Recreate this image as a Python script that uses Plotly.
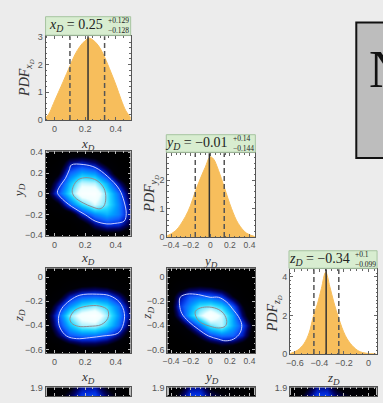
import plotly.graph_objects as go

W, H = 383, 403

# ---------------- data ----------------
# 1D marginal PDFs
xd_x = [-0.071, -0.039, -0.006, 0.026, 0.058, 0.101, 0.133, 0.166, 0.198, 0.226,
        0.252, 0.284, 0.316, 0.359, 0.402, 0.434, 0.466, 0.499]
xd_pdf = [0.03, 0.2, 0.6, 1.0, 1.4, 1.95, 2.35, 2.65, 2.85, 2.95,
          2.88, 2.7, 2.4, 1.85, 1.25, 0.75, 0.33, 0.08]
xd_lines = [0.101, 0.219, 0.327]          # lower, median, upper

yd_x = [-0.457, -0.356, -0.255, -0.204, -0.154, -0.103, -0.053, -0.002, 0.032,
        0.083, 0.143, 0.217, 0.285, 0.369, 0.453]
yd_pdf = [0.02, 0.22, 0.72, 1.1, 1.6, 2.05, 2.45, 2.82, 2.75,
          2.35, 1.75, 1.0, 0.48, 0.14, 0.02]
yd_lines = [-0.154, -0.01, 0.142]

zd_x = [-0.638, -0.578, -0.525, -0.484, -0.452, -0.416, -0.384, -0.349, -0.315,
        -0.283, -0.242, -0.188, -0.134, -0.067, 0.062]
zd_pdf = [0.03, 0.2, 0.55, 1.1, 1.9, 2.6, 3.4, 4.25, 3.5,
          2.7, 1.85, 0.95, 0.45, 0.12, 0.01]
zd_lines = [-0.445, -0.345, -0.242]

title_main = ["<i>x<sub>D</sub></i> = 0.25", "<i>y<sub>D</sub></i> = −0.01",
              "<i>z<sub>D</sub></i> = −0.34"]
title_err = ["+0.129<br>−0.128", "+0.14<br>−0.144", "+0.1<br>−0.099"]

# 2D densities (relative brightness)
gx1 = [-0.06, 0.02, 0.10, 0.18, 0.26, 0.34, 0.42, 0.50]
gx2 = [-0.44, -0.33, -0.22, -0.11, 0.0, 0.11, 0.22, 0.33, 0.44]
gy2 = [-0.4, -0.3, -0.2, -0.1, 0.0, 0.1, 0.2, 0.3, 0.4]
gy3 = [-0.64, -0.56, -0.48, -0.40, -0.32, -0.24, -0.16, -0.08, 0.0, 0.08]

z_xy = [
    [0, 0, 0, 0.01, 0.06, 0.10, 0.10, 0.04],
    [0, 0, 0.01, 0.08, 0.30, 0.40, 0.38, 0.20],
    [0, 0.02, 0.08, 0.36, 0.53, 0.60, 0.52, 0.28],
    [0, 0.15, 0.47, 0.68, 0.84, 0.72, 0.53, 0.25],
    [0.12, 0.43, 0.69, 0.95, 0.97, 0.72, 0.49, 0.16],
    [0.05, 0.33, 0.62, 0.82, 0.80, 0.60, 0.32, 0.05],
    [0, 0.15, 0.48, 0.60, 0.56, 0.35, 0.07, 0],
    [0, 0.05, 0.30, 0.35, 0.28, 0.12, 0.02, 0],
    [0, 0, 0.06, 0.08, 0.05, 0, 0, 0],
]
z_xz = [
    [0, 0, 0.03, 0.05, 0.05, 0.04, 0.01, 0],
    [0, 0.05, 0.17, 0.24, 0.24, 0.20, 0.10, 0.01],
    [0.02, 0.25, 0.45, 0.50, 0.50, 0.44, 0.30, 0.06],
    [0.08, 0.38, 0.62, 0.78, 0.80, 0.68, 0.50, 0.18],
    [0.12, 0.43, 0.75, 0.92, 0.98, 0.77, 0.55, 0.26],
    [0.05, 0.32, 0.55, 0.70, 0.76, 0.68, 0.50, 0.20],
    [0, 0.12, 0.35, 0.46, 0.48, 0.46, 0.32, 0.08],
    [0, 0.02, 0.10, 0.18, 0.20, 0.17, 0.08, 0.01],
    [0, 0, 0.01, 0.03, 0.04, 0.03, 0.01, 0],
    [0, 0, 0, 0, 0, 0, 0, 0],
]
z_yz = [
    [0, 0, 0, 0.01, 0.03, 0.05, 0.04, 0.02, 0],
    [0, 0, 0.02, 0.06, 0.15, 0.22, 0.20, 0.12, 0.03],
    [0, 0.02, 0.10, 0.25, 0.43, 0.50, 0.48, 0.35, 0.10],
    [0, 0.10, 0.30, 0.50, 0.72, 0.80, 0.60, 0.43, 0.15],
    [0.02, 0.30, 0.60, 0.80, 0.98, 0.82, 0.59, 0.28, 0.03],
    [0.02, 0.38, 0.55, 0.70, 0.74, 0.66, 0.47, 0.20, 0.02],
    [0.02, 0.30, 0.45, 0.48, 0.46, 0.40, 0.20, 0.05, 0],
    [0, 0.10, 0.18, 0.20, 0.18, 0.12, 0.05, 0.01, 0],
    [0, 0.01, 0.03, 0.04, 0.03, 0.02, 0, 0, 0],
    [0, 0, 0, 0, 0, 0, 0, 0, 0],
]

# credible-region contours (outer, inner)
xy_outer_x = [0.110, 0.187, 0.265, 0.348, 0.423, 0.455, 0.468, 0.455, 0.394, 0.342,
              0.265, 0.200, 0.110, 0.039, 0.019, 0.039, 0.071, 0.097, 0.110]
xy_outer_y = [0.278, 0.282, 0.254, 0.165, 0.042, -0.080, -0.193, -0.264, -0.287, -0.292,
              -0.264, -0.202, -0.122, -0.033, 0.014, 0.080, 0.146, 0.231, 0.278]
xy_inner_x = [0.123, 0.155, 0.213, 0.277, 0.323, 0.335, 0.323, 0.297, 0.245, 0.187,
              0.135, 0.116, 0.123]
xy_inner_y = [0.071, 0.136, 0.155, 0.127, 0.052, -0.042, -0.118, -0.146, -0.127, -0.089,
              -0.038, 0.014, 0.071]

xz_outer_x = [0.026, 0.047, 0.101, 0.166, 0.273, 0.359, 0.424, 0.456, 0.445, 0.413,
              0.316, 0.230, 0.144, 0.079, 0.037, 0.026]
xz_outer_y = [-0.342, -0.262, -0.194, -0.150, -0.142, -0.154, -0.208, -0.302, -0.408, -0.466,
              -0.488, -0.502, -0.510, -0.488, -0.422, -0.342]
xz_inner_x = [0.101, 0.134, 0.208, 0.295, 0.348, 0.348, 0.305, 0.230, 0.155, 0.112, 0.101]
xz_inner_y = [-0.342, -0.274, -0.242, -0.240, -0.274, -0.342, -0.394, -0.408, -0.408, -0.382,
              -0.342]

yz_outer_x = [-0.308, -0.240, -0.120, -0.002, 0.084, 0.168, 0.237, 0.288, 0.321, 0.304,
              0.237, 0.151, 0.084, -0.018, -0.120, -0.222, -0.291, -0.314, -0.308]
yz_outer_y = [-0.168, -0.142, -0.146, -0.168, -0.168, -0.208, -0.274, -0.328, -0.394, -0.462,
              -0.514, -0.528, -0.514, -0.488, -0.434, -0.368, -0.302, -0.234, -0.168]
yz_inner_x = [-0.155, -0.120, -0.036, 0.066, 0.135, 0.168, 0.151, 0.084, -0.002, -0.087,
              -0.138, -0.155]
yz_inner_y = [-0.288, -0.262, -0.248, -0.262, -0.302, -0.368, -0.408, -0.422, -0.408, -0.382,
              -0.342, -0.288]

# bottom row (cut off): top slice of the next row of 2D panels
gy4 = [1.78, 1.90]
b1_x = [-0.06, 0.10, 0.18, 0.26, 0.34, 0.50]
b1_z = [[0, 0.26, 0.42, 0.44, 0.28, 0], [0, 0.16, 0.32, 0.34, 0.18, 0]]
b2_x = [-0.44, -0.30, -0.20, -0.10, 0.0, 0.44]
b2_z = [[0, 0.28, 0.42, 0.42, 0.28, 0], [0, 0.17, 0.32, 0.32, 0.17, 0]]
b3_x = [-0.64, -0.50, -0.42, -0.34, -0.26, 0.07]
b3_z = [[0, 0.28, 0.42, 0.42, 0.28, 0], [0, 0.17, 0.32, 0.32, 0.17, 0]]

# ---------------- styling ----------------
BG = "#ececec"
FILL = "#f7be5c"
CSCALE = [[0, "#000000"], [0.18, "#000008"], [0.28, "#000060"], [0.38, "#0028d8"],
          [0.47, "#1060ff"], [0.57, "#00a0ff"], [0.67, "#20d8ff"], [0.77, "#a0f0ff"],
          [0.86, "#f0ffff"], [1, "#ffffff"]]
OUTER_C = "#c8ccff"
INNER_C = "#8c8c94"
SERIF = "Liberation Serif"
TICKFONT = dict(family="Liberation Sans", size=9, color="#555")


def fx(p):
    return p / W


def fy(p):
    return 1 - p / H


def sfx(i):
    return "" if i == 1 else str(i)


COLX = {1: (42, 128), 2: (165, 254), 3: (289, 377)}
XR = {1: [-0.058, 0.497], 2: [-0.44, 0.46], 3: [-0.64, 0.07]}

# panel id: (col, (ytop, ybottom), yrange, kind)
panels = {
    1: (1, (32, 118), [0, 3.02], "h"),
    2: (1, (150, 237), [-0.41, 0.41], "d"),
    3: (2, (152, 238), [0, 2.95], "h"),
    4: (1, (270, 357), [-0.63, 0.072], "d"),
    5: (2, (270, 357), [-0.63, 0.072], "d"),
    6: (3, (271, 358), [0, 4.4], "h"),
    7: (1, (392, 401), [1.78, 1.902], "b"),
    8: (2, (392, 401), [1.78, 1.902], "b"),
    9: (3, (392, 401), [1.78, 1.902], "b"),
}
xticks = {1: [0, 0.2, 0.4], 2: [-0.4, -0.2, 0, 0.2, 0.4], 3: [-0.6, -0.4, -0.2, 0]}
yticks = {1: [0, 1, 2, 3], 2: [-0.4, -0.2, 0, 0.2, 0.4], 3: [0, 1, 2],
          4: [-0.6, -0.4, -0.2, 0], 5: [-0.6, -0.4, -0.2, 0], 6: [0, 2, 4],
          7: [1.9], 8: [1.9], 9: [1.9]}

fig = go.Figure()
layout = dict(width=W, height=H, margin=dict(l=0, r=0, t=0, b=0),
              paper_bgcolor=BG, plot_bgcolor="white", showlegend=False)

for i, (col, (yt, yb), yr, kind) in panels.items():
    dark = kind != "h"
    tc = "#bbbbbb" if dark else "#666"
    common = dict(showgrid=False, zeroline=False, showline=True, linecolor="#555",
                  linewidth=1, mirror="ticks", ticks="inside", ticklen=3,
                  tickcolor=tc, tickfont=TICKFONT, tickangle=0,
                  minor=dict(ticks="inside", ticklen=1.5, tickcolor=tc))
    xfont = dict(TICKFONT, size=8.5) if col == 2 else TICKFONT
    layout["xaxis" + sfx(i)] = dict(common, domain=[fx(COLX[col][0]), fx(COLX[col][1])],
                                    range=XR[col], anchor="y" + sfx(i), tickvals=xticks[col],
                                    showticklabels=kind != "b", tickfont=xfont)
    layout["yaxis" + sfx(i)] = dict(common, domain=[fy(yb), fy(yt)], range=yr,
                                    anchor="x" + sfx(i), tickvals=yticks[i])

# histograms
hist = [(1, xd_x, xd_pdf, xd_lines), (3, yd_x, yd_pdf, yd_lines), (6, zd_x, zd_pdf, zd_lines)]
shapes = []
for i, xs, ys, lines in hist:
    fig.add_trace(go.Scatter(x=xs, y=ys, mode="lines",
                             line=dict(color=FILL, width=1, shape="spline"),
                             fill="tozeroy", fillcolor=FILL, xaxis="x" + sfx(i),
                             yaxis="y" + sfx(i), hoverinfo="skip"))
    for k, v in enumerate(lines):
        shapes.append(dict(type="line", xref="x" + sfx(i), yref="y%s domain" % sfx(i),
                           x0=v, x1=v, y0=0, y1=1,
                           line=dict(color="#333" if k == 1 else "#555", width=1.5,
                                     dash="solid" if k == 1 else "5px,3px")))

# 2D panels
dens = [(2, gx1, gy2, z_xy, xy_outer_x, xy_outer_y, xy_inner_x, xy_inner_y),
        (4, gx1, gy3, z_xz, xz_outer_x, xz_outer_y, xz_inner_x, xz_inner_y),
        (5, gx2, gy3, z_yz, yz_outer_x, yz_outer_y, yz_inner_x, yz_inner_y)]
for i, gx, gy, z, ox, oy, ix, iy in dens:
    fig.add_trace(go.Heatmap(x=gx, y=gy, z=z, colorscale=CSCALE, zmin=0, zmax=1,
                             zsmooth="best", showscale=False, xaxis="x" + sfx(i),
                             yaxis="y" + sfx(i), hoverinfo="skip"))
    fig.add_trace(go.Scatter(x=ox, y=oy, mode="lines",
                             line=dict(color=OUTER_C, width=1, shape="spline"),
                             xaxis="x" + sfx(i), yaxis="y" + sfx(i), hoverinfo="skip"))
    fig.add_trace(go.Scatter(x=ix, y=iy, mode="lines",
                             line=dict(color=INNER_C, width=1, shape="spline"),
                             xaxis="x" + sfx(i), yaxis="y" + sfx(i), hoverinfo="skip"))

for i, bx, bz in [(7, b1_x, b1_z), (8, b2_x, b2_z), (9, b3_x, b3_z)]:
    fig.add_trace(go.Heatmap(x=bx, y=gy4, z=bz, colorscale=CSCALE, zmin=0, zmax=1,
                             zsmooth="best", showscale=False, xaxis="x" + sfx(i),
                             yaxis="y" + sfx(i), hoverinfo="skip"))

# gray box at right
shapes.append(dict(type="rect", xref="paper", yref="paper", x0=fx(356), x1=fx(400),
                   y0=fy(157), y1=fy(18), fillcolor="#bdbdbd",
                   line=dict(color="#111", width=2), layer="below"))

ann = []
# title boxes above histograms: (box x0, x1, y top, y bottom, main-text right edge)
tboxes = [(42, 128, 12, 31, 102), (164, 254, 133, 151, 228), (288, 377, 252, 270, 352)]
for (x0, x1, yt, yb, xr), tm, te in zip(tboxes, title_main, title_err):
    shapes.append(dict(type="rect", xref="paper", yref="paper", x0=fx(x0), x1=fx(x1),
                       y0=fy(yb), y1=fy(yt), fillcolor="#d8edd0",
                       line=dict(color="#a6c4a0", width=1)))
    yc = fy((yt + yb) / 2)
    ann.append(dict(text=tm, xref="paper", yref="paper", x=fx(xr), y=yc, xanchor="right",
                    yanchor="middle", showarrow=False,
                    font=dict(family=SERIF, size=14, color="#222")))
    ann.append(dict(text=te, xref="paper", yref="paper", x=fx(xr + 1), y=yc, xanchor="left",
                    yanchor="middle", showarrow=False, align="left",
                    font=dict(family=SERIF, size=7.5, color="#222")))
layout["shapes"] = shapes


def lab(s):
    return "<i>%s<sub>D</sub></i>" % s


def pdf(s):
    return "<i>PDF<sub>%s<sub>D</sub></sub></i>" % s


axis_titles = [
    (lab("x"), 85, 143, 0), (lab("x"), 85, 260, 0), (lab("y"), 209, 263, 0),
    (lab("x"), 85, 382, 0), (lab("y"), 210, 382, 0), (lab("z"), 333, 383, 0),
    (pdf("x"), 22, 75, -90), (lab("y"), 15, 190, -90), (pdf("y"), 149, 193, -90),
    (lab("z"), 15, 318, -90), (lab("z"), 145, 316, -90), (pdf("z"), 273, 317, -90),
]
for t, x, y, a in axis_titles:
    ann.append(dict(text=t, xref="paper", yref="paper", x=fx(x), y=fy(y), xanchor="center",
                    yanchor="middle", showarrow=False, textangle=a,
                    font=dict(family=SERIF, size=13 if "PDF" not in t else 14, color="#333")))
ann.append(dict(text="N", xref="paper", yref="paper", x=fx(367), y=fy(66), xanchor="left",
                yanchor="middle", showarrow=False,
                font=dict(family=SERIF, size=52, color="#111")))
layout["annotations"] = ann

fig.update_layout(**layout)
fig.write_html("out.html")
